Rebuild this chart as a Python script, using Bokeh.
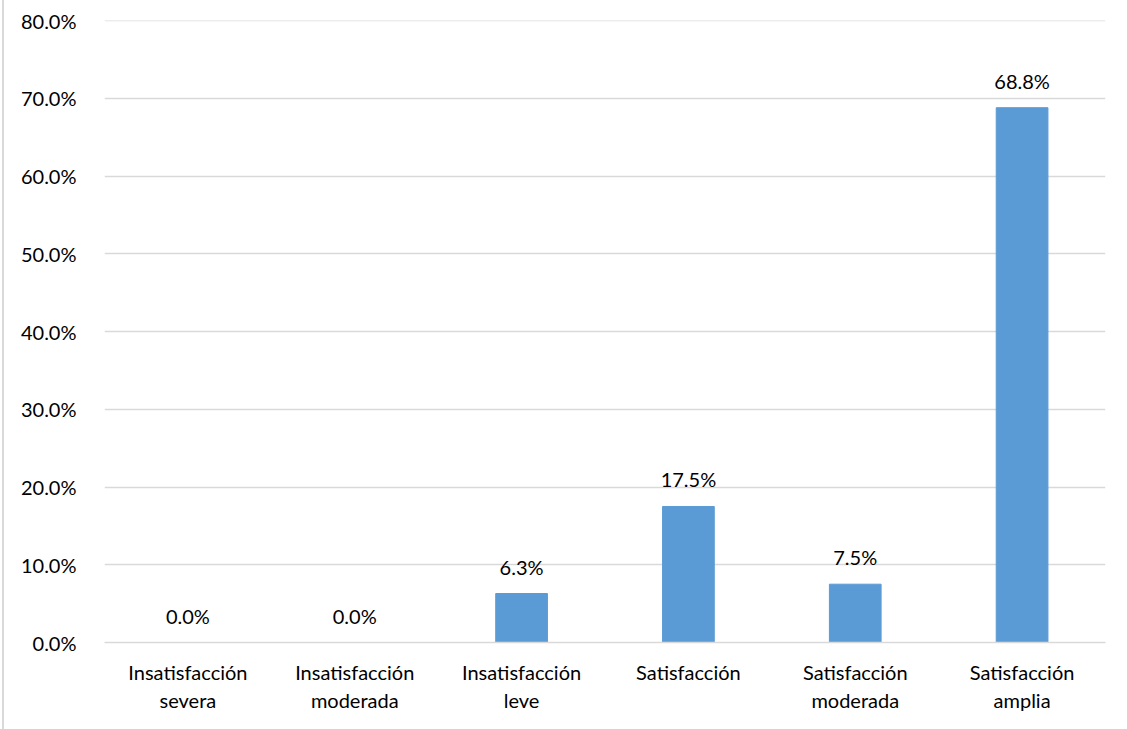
from bokeh.plotting import figure
from bokeh.models import ColumnDataSource, FixedTicker, Range1d, LabelSet
from bokeh.core.properties import value
from bokeh.embed import file_html
from bokeh.resources import INLINE

categories = [
    "Insatisfacción\nsevera",
    "Insatisfacción\nmoderada",
    "Insatisfacción\nleve",
    "Satisfacción",
    "Satisfacción\nmoderada",
    "Satisfacción\namplia",
]
percentages = [0.0, 0.0, 6.3, 17.5, 7.5, 68.8]
y_ticks = [0, 10, 20, 30, 40, 50, 60, 70, 80]

FONT = "Lato"
FONT_SIZE = "20px"
BAR = "#5B9BD5"
GRID = "#D9D9D9"

source = ColumnDataSource(dict(
    cat=categories,
    val=percentages,
    label=[f"{v:.1f}%" for v in percentages],
))

p = figure(
    x_range=categories,
    y_range=Range1d(0, 80.02),
    width=1124, height=729,
    output_backend="svg",
    toolbar_location=None,
    min_border_left=100, min_border_right=23,
    min_border_top=20, min_border_bottom=87,
)
p.styles = {"border-left": "2px solid #D9D9D9", "margin-left": "2px"}

p.vbar(x="cat", top="val", width=0.31, source=source, color=BAR)

labels = LabelSet(x="cat", y="val", text="label", source=source,
                  text_align="center", text_baseline="bottom", y_offset=15,
                  text_font=value(FONT), text_font_size=value(FONT_SIZE),
                  text_color="#000000")
p.add_layout(labels)

p.outline_line_color = None
p.background_fill_color = "white"
p.border_fill_color = "white"

p.xgrid.grid_line_color = None
p.ygrid.grid_line_color = GRID
p.ygrid.grid_line_width = 1.5

p.yaxis.ticker = FixedTicker(ticks=y_ticks)
p.yaxis.major_label_overrides = {t: f"{t:.1f}%" for t in y_ticks}
p.yaxis.axis_line_color = None
p.yaxis.major_tick_line_color = None
p.yaxis.minor_tick_line_color = None
p.yaxis.major_label_standoff = 22

p.xaxis.axis_line_color = GRID
p.xaxis.axis_line_width = 1.5
p.xaxis.major_tick_line_color = None
p.xaxis.major_label_standoff = 11

for ax in (p.xaxis, p.yaxis):
    ax.major_label_text_font = FONT
    ax.major_label_text_font_size = FONT_SIZE
    ax.major_label_text_color = "#000000"

open("out.html", "w").write(file_html(p, INLINE))
